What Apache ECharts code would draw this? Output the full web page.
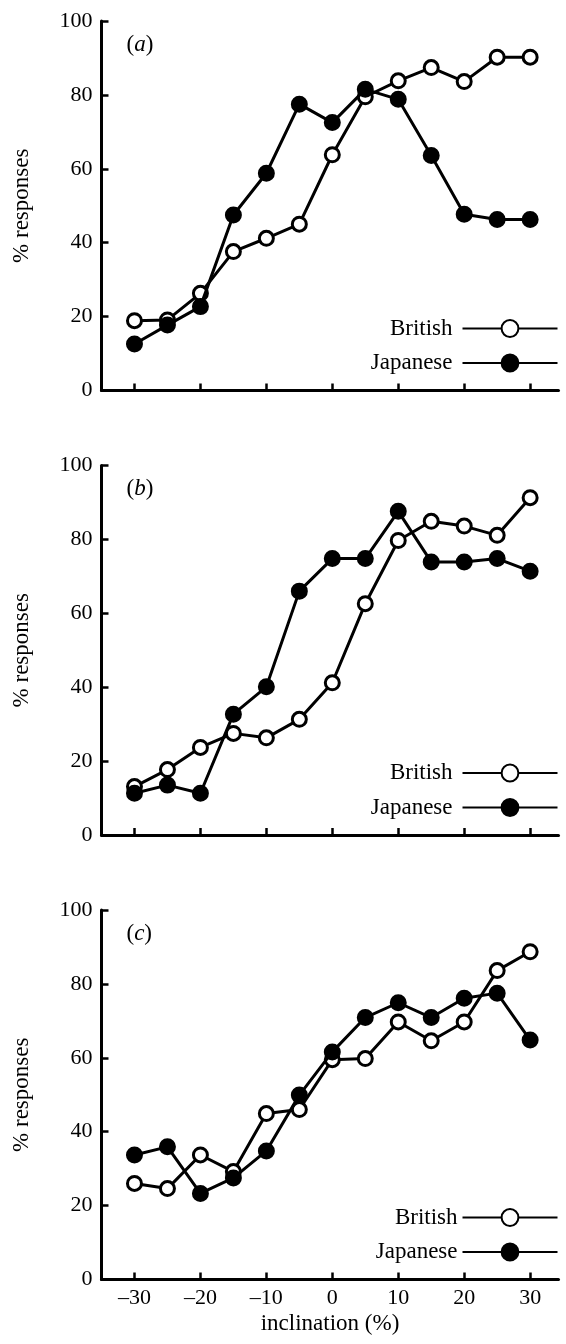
<!DOCTYPE html>
<html><head><meta charset="utf-8">
<script src="https://cdn.jsdelivr.net/npm/echarts@6/dist/echarts.min.js"></script>
<style>html,body{margin:0;padding:0;background:#fff}#c{width:566px;height:1344px}</style>
</head><body><div id="c"></div>
<script>
// ---- data ----
const inclination = [-30, -25, -20, -15, -10, -5, 0, 5, 10, 15, 20, 25, 30];
const xTicks = [-30, -20, -10, 0, 10, 20, 30];
const panelLetters = ['a', 'b', 'c'];
const seriesNames = ['British', 'Japanese'];

const britishA  = [18.9, 19.1, 26.3, 37.6, 41.2, 45.0, 63.8, 79.5, 83.8, 87.4, 83.6, 90.2, 90.2];
const japaneseA = [12.6, 17.7, 22.7, 47.5, 58.8, 77.5, 72.5, 81.5, 78.8, 63.6, 47.7, 46.3, 46.3];

const britishB  = [13.1, 17.7, 23.7, 27.5, 26.3, 31.3, 41.2, 62.6, 79.7, 84.9, 83.6, 81.1, 91.3];
const japaneseB = [11.3, 13.5, 11.3, 32.7, 40.1, 66.0, 74.8, 74.8, 87.6, 73.9, 73.9, 74.8, 71.4];

const britishC  = [26.0, 24.6, 33.7, 29.2, 44.9, 46.0, 59.5, 59.8, 69.7, 64.6, 69.7, 83.6, 88.7];
const japaneseC = [33.7, 35.9, 23.3, 27.5, 34.8, 49.9, 61.6, 70.9, 74.9, 70.9, 76.1, 77.5, 64.8];

const panels = [
  [britishA, japaneseA],
  [britishB, japaneseB],
  [britishC, japaneseC]
];

// ---- layout ----
const FONT = '"Liberation Serif", "Times New Roman", serif';
const tops = [21, 465.5, 910];
const plotH = 369.5;
const plotLeft = 101.5;
const plotW = 457;

const zip = (xs, ys) => xs.map((x, i) => [x, ys[i]]);
const dash = v => String(v).replace('-', '\u2013');

const grid = tops.map(t => ({ left: plotLeft, top: t, width: plotW, height: plotH, containLabel: false }));

const axisLine = { show: true, onZero: false, lineStyle: { color: '#000', width: 3 } };

const xAxis = tops.map((t, i) => ({
  type: 'value', gridIndex: i, min: -35, max: 34.3,
  axisLine,
  axisTick: { show: true, inside: true, length: 7, lineStyle: { color: '#000', width: 2.5 }, customValues: xTicks },
  axisLabel: { show: i === 2, customValues: xTicks, formatter: dash, margin: 8,
               fontFamily: FONT, fontSize: 22, color: '#000' },
  splitLine: { show: false },
  name: i === 2 ? 'inclination (%)' : '',
  nameLocation: 'middle', nameGap: 33,
  nameTextStyle: { fontFamily: FONT, fontSize: 23, color: '#000' }
}));

const yAxis = tops.map((t, i) => ({
  type: 'value', gridIndex: i, min: 0, max: 100, interval: 20,
  axisLine,
  axisTick: { show: true, inside: true, length: 7, lineStyle: { color: '#000', width: 2.5 } },
  axisLabel: { margin: 9, fontFamily: FONT, fontSize: 22, color: '#000' },
  splitLine: { show: false },
  name: '% responses', nameLocation: 'middle', nameGap: 68,
  nameTextStyle: { fontFamily: FONT, fontSize: 23, color: '#000' }
}));

const series = [];
panels.forEach((pair, i) => {
  pair.forEach((vals, k) => {
    series.push({
      type: 'line', name: seriesNames[k], xAxisIndex: i, yAxisIndex: i,
      data: zip(inclination, vals),
      symbol: 'circle', symbolSize: 14,
      lineStyle: { color: '#000', width: 3 },
      itemStyle: { color: k === 0 ? '#fff' : '#000', borderColor: '#000', borderWidth: 3 },
      emphasis: { disabled: true },
      z: 2 + k
    });
  });
});

const legend = tops.map((t, i) => ({
  data: seriesNames,
  orient: 'vertical', align: 'right',
  right: 7.5, top: t + 306.5 - 10.5,
  itemWidth: 95, itemHeight: 21, itemGap: 11.5,
  padding: 0, selectedMode: false,
  textStyle: { fontFamily: FONT, fontSize: 23, color: '#000', lineHeight: 21,
               padding: i < 2 ? [0, 5, 0, 0] : [0, 0, 0, 0] }
}));

const title = tops.map((t, i) => ({
  text: '{p|(}{i|' + panelLetters[i] + '}{p|)}',
  left: 126.5, top: t + 24 - 12, padding: 0,
  textStyle: {
    fontWeight: 'normal', fontFamily: FONT, fontSize: 23, color: '#000',
    rich: {
      p: { fontFamily: FONT, fontSize: 23, fontWeight: 'normal', color: '#000' },
      i: { fontFamily: FONT, fontSize: 23, fontWeight: 'normal', fontStyle: 'italic', color: '#000' }
    }
  }
}));

const chart = echarts.init(document.getElementById('c'), null, { renderer: 'canvas' });
chart.setOption({
  animation: false,
  backgroundColor: '#fff',
  title, grid, xAxis, yAxis, series, legend,
  tooltip: { show: false }
});
</script>
</body></html>
